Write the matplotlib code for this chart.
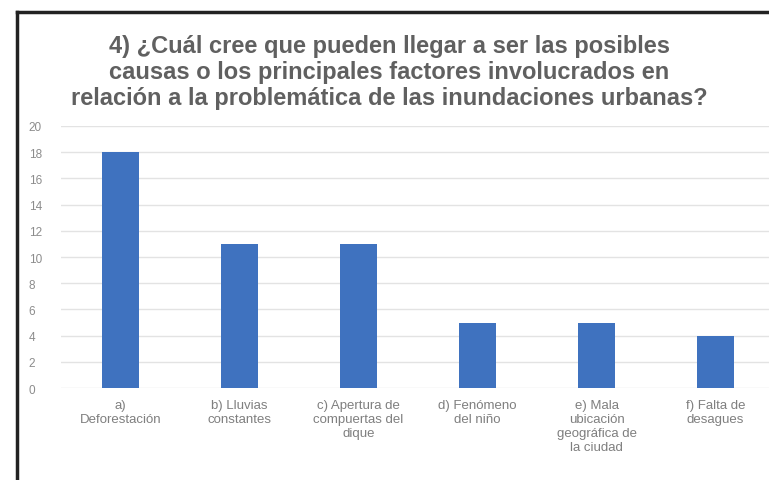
import matplotlib.pyplot as plt
from matplotlib.lines import Line2D

categorias = ["a)\nDeforestación", "b) Lluvias\nconstantes", "c) Apertura de\ncompuertas del\ndique",
              "d) Fenómeno\ndel niño", "e) Mala\nubicación\ngeográfica de\nla ciudad", "f) Falta de\ndesagues"]
valores = [18, 11, 11, 5, 5, 4]
yticks = list(range(0, 21, 2))

titulo = ("4) ¿Cuál cree que pueden llegar a ser las posibles\n"
          "causas o los principales factores involucrados en\n"
          "relación a la problemática de las inundaciones urbanas?")

plt.rcParams['font.family'] = ['Liberation Sans', 'DejaVu Sans']

fig = plt.figure(figsize=(7.69, 4.81), dpi=100)
ax = fig.add_axes([0.079, 0.191, 0.929, 0.545])

x = list(range(len(categorias)))
ax.bar(x, valores, width=0.31, color='#3F72BF', zorder=3)

ax.set_xlim(-0.5, 5.5)
ax.set_ylim(0, 20)
ax.set_yticks(yticks)
ax.set_xticks(x)
ax.set_xticklabels(categorias, fontsize=9.5, color='#7F7F7F', linespacing=1.2)
ax.tick_params(axis='y', labelsize=8.5, labelcolor='#8C8C8C', length=0, pad=23)
ax.tick_params(axis='x', length=0, pad=8)
for t in ax.get_yticklabels():
    t.set_horizontalalignment('left')

ax.grid(axis='y', color='#E3E3E3', linewidth=1, zorder=0)
for s in ax.spines.values():
    s.set_visible(False)

fig.text(0.506, 0.927, titulo, ha='center', va='top', fontsize=17, fontweight='bold',
         color='#606060', linespacing=1.17)

# marco negro (arriba e izquierda)
fig.add_artist(Line2D([0.022, 1.0], [0.972, 0.972], transform=fig.transFigure, color='#222222', linewidth=2.5))
fig.add_artist(Line2D([0.022, 0.022], [0.972, 0.0], transform=fig.transFigure, color='#222222', linewidth=2.5))

fig.savefig('out.png', dpi=100)
